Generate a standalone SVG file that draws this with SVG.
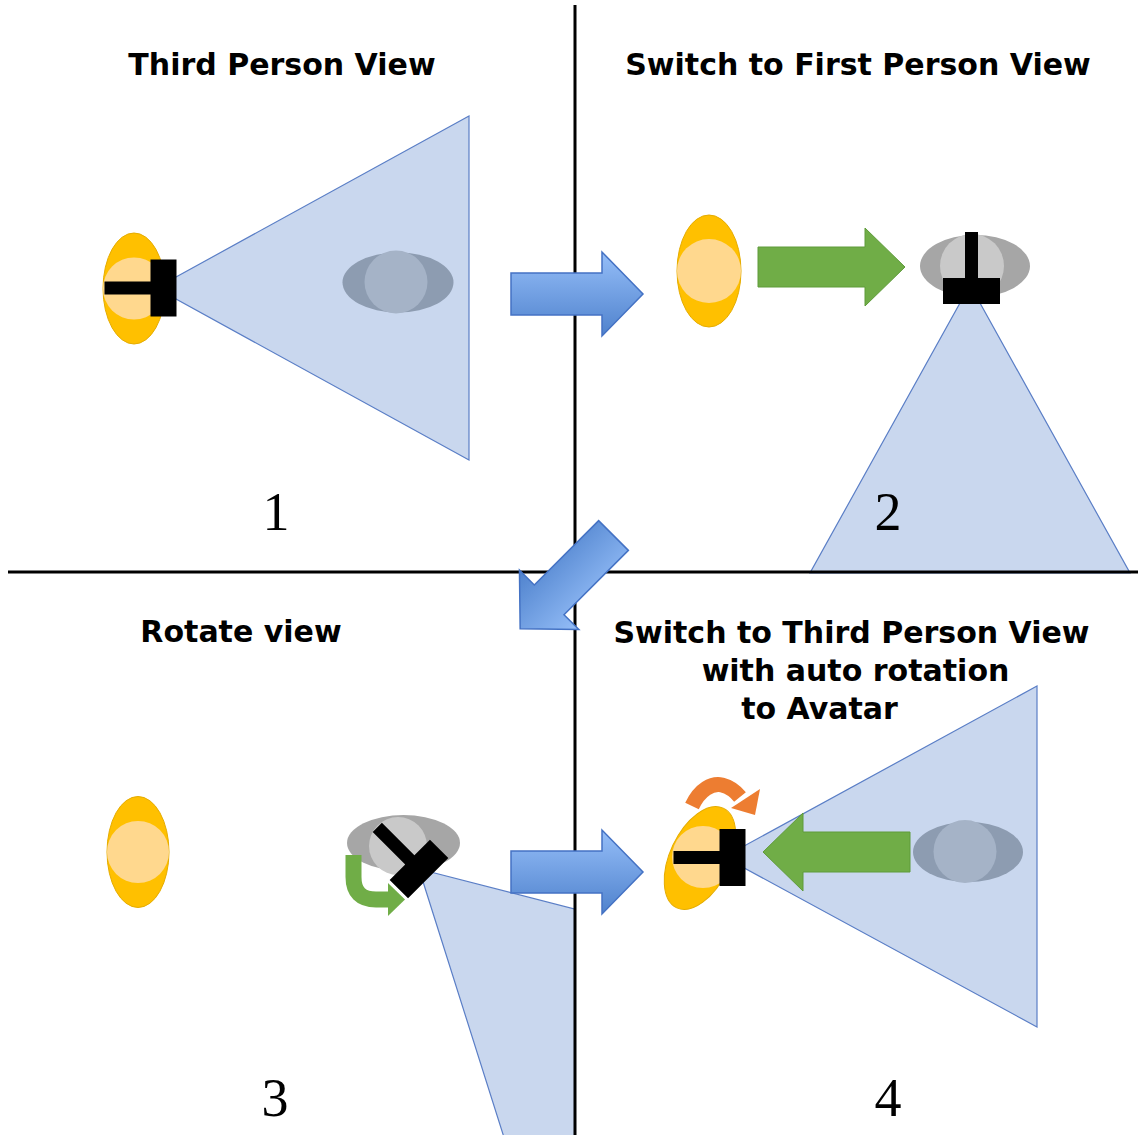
<svg xmlns="http://www.w3.org/2000/svg" width="1138" height="1135" viewBox="0 0 1138 1135">
<defs>
  <style>
    .title{font-family:"DejaVu Sans",Verdana,sans-serif;font-weight:bold;font-size:30px;fill:#000;text-anchor:middle}
    .num{font-family:"Liberation Serif","Times New Roman",serif;font-size:54px;fill:#000;text-anchor:middle}
    .cone{fill:#C9D7EE;stroke:#5A7EC6;stroke-width:1.2}
    .yel{fill:#FFC000;stroke:#E5AC00;stroke-width:1}
    .yelin{fill:#FFD88E}
    .gb{fill:#8D9CB1}
    .gbin{fill:#A5B3C7}
    .gr{fill:#A6A6A6}
    .grin{fill:#C9C9C9}
    .cam{fill:#000}
    .green{fill:#70AD47;stroke:#5F9B3B;stroke-width:1}
    .blue{fill:url(#bg);stroke:#4472C4;stroke-width:1.5}
    .line{stroke:#000;stroke-width:3;fill:none}
  </style>
  <linearGradient id="bg" x1="0" y1="0" x2="0" y2="1">
    <stop offset="0" stop-color="#95BEF8"/>
    <stop offset="1" stop-color="#4F82CD"/>
  </linearGradient>
  <path id="cam" d="M-28.5,-13 H-6.5 V-59 H6.5 V-13 H28.5 V13 H-28.5 Z"/>
  <path id="barrow" d="M0,-21 H91 V-42 L132,0 L91,42 V21 H0 Z"/>
  <path id="garrow" d="M0,-20 H107 V-39 L147,0 L107,39 V20 H0 Z"/>
  <clipPath id="clip3"><rect x="0" y="572" width="575" height="563"/></clipPath>
  <clipPath id="clip4"><ellipse cx="0" cy="0" rx="30" ry="55" transform="translate(700,858) rotate(25)"/></clipPath>
</defs>
<rect width="1138" height="1135" fill="#fff"/>

<g id="panel1">
  <text class="title" x="282" y="75">Third Person View</text>
  <polygon class="cone" points="156,288 469,116 469,460"/>
  <ellipse class="gb" cx="398" cy="282.5" rx="55.5" ry="30"/>
  <circle class="gbin" cx="396" cy="282" r="31.5"/>
  <ellipse class="yel" cx="134" cy="288.5" rx="31" ry="55.5"/>
  <circle class="yelin" cx="134" cy="288.5" r="31"/>
  <use href="#cam" class="cam" transform="translate(163.5,288) rotate(-90)"/>
  <text class="num" x="276" y="530">1</text>
</g>

<g id="panel2">
  <text class="title" x="858" y="75">Switch to First Person View</text>
  <polygon class="cone" points="970,285 1130,573 810,573"/>
  <ellipse class="yel" cx="709" cy="271" rx="32" ry="56"/>
  <circle class="yelin" cx="709" cy="271" r="32"/>
  <use href="#garrow" class="green" transform="translate(758,267)"/>
  <ellipse class="gr" cx="975" cy="266" rx="55" ry="31"/>
  <circle class="grin" cx="972" cy="266" r="32"/>
  <use href="#cam" class="cam" transform="translate(971.5,291)"/>
  <text class="num" x="888" y="530">2</text>
</g>

<g id="panel3">
  <text class="title" x="241" y="642">Rotate view</text>
  <polygon class="cone" clip-path="url(#clip3)" points="419,869 765,958 527,1210"/>
  <ellipse class="yel" cx="138" cy="852" rx="31" ry="55.5"/>
  <circle class="yelin" cx="138" cy="852" r="31"/>
  <ellipse class="gr" cx="403.5" cy="843" rx="56.5" ry="28"/>
  <circle class="grin" cx="398" cy="846" r="29"/>
  <use href="#cam" class="cam" transform="translate(419,869) rotate(-45)"/>
  <path d="M353.5,855 V877 Q353.5,899.5 376,899.5 H389" fill="none" stroke="#70AD47" stroke-width="16"/>
  <polygon fill="#70AD47" points="388,883 405,899.5 388,916"/>
  <text class="num" x="275" y="1116">3</text>
</g>

<g id="panel4">
  <text class="title" x="851.5" y="643">Switch to Third Person View</text>
  <text class="title" x="855.5" y="681">with auto rotation</text>
  <text class="title" x="819.5" y="719">to Avatar</text>
  <polygon class="cone" points="724,857 1037,686 1037,1027"/>
  <ellipse class="gb" cx="968" cy="852" rx="55" ry="30"/>
  <circle class="gbin" cx="965" cy="851.5" r="31.5"/>
  <use href="#garrow" class="green" transform="translate(910,852) scale(-1,1)"/>
  <ellipse class="yel" cx="0" cy="0" rx="30" ry="55" transform="translate(700,858) rotate(25)"/>
  <circle class="yelin" cx="703" cy="857" r="31" clip-path="url(#clip4)"/>
  <use href="#cam" class="cam" transform="translate(732.5,857.5) rotate(-90)"/>
  <path d="M692,806 C700,789 712,783 722,785 C730,787 736,792 740,797" fill="none" stroke="#ED7D31" stroke-width="15"/>
  <polygon fill="#ED7D31" points="760,789 731,808 755,815"/>
  <text class="num" x="888" y="1116">4</text>
</g>

<g id="dividers">
  <line class="line" x1="575" y1="5" x2="575" y2="1135"/>
  <line class="line" x1="8" y1="572" x2="1138" y2="572"/>
</g>

<g id="connectors">
  <use href="#barrow" class="blue" transform="translate(511,294)"/>
  <use href="#barrow" class="blue" transform="translate(613.5,535.5) rotate(135)"/>
  <use href="#barrow" class="blue" transform="translate(511,872)"/>
</g>
</svg>
